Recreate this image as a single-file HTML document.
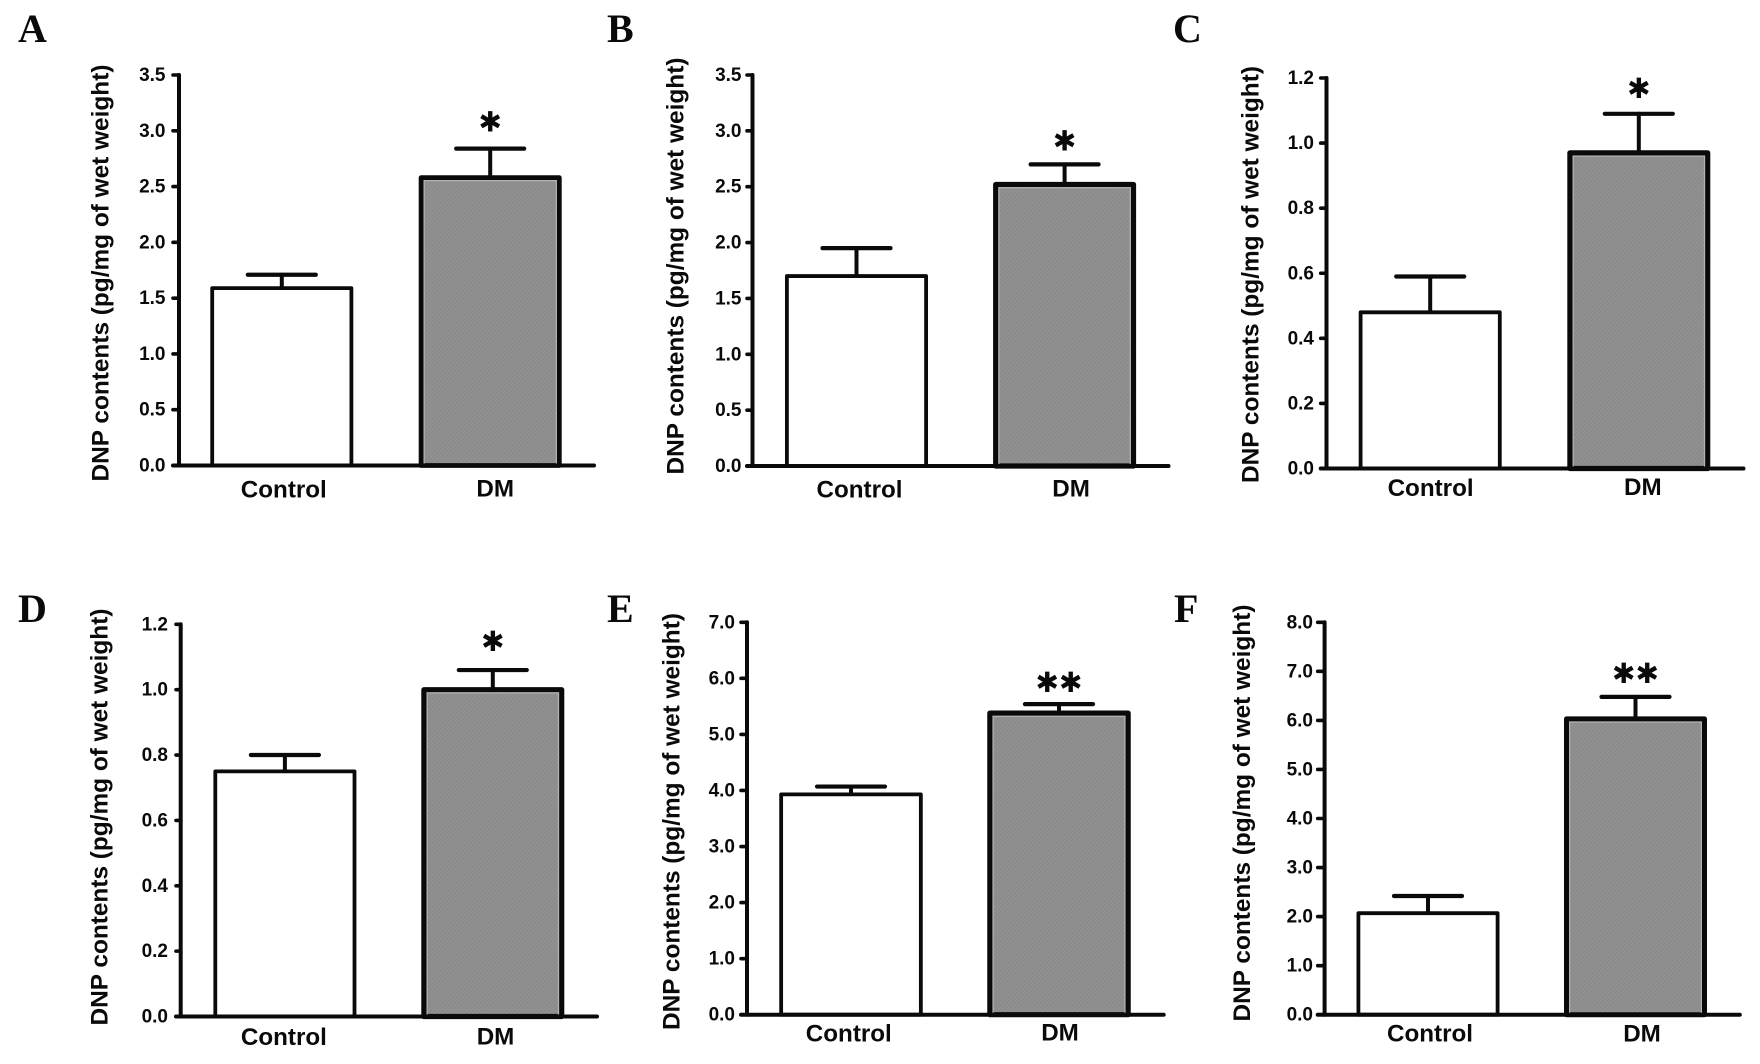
<!DOCTYPE html>
<html lang="en">
<head>
<meta charset="utf-8">
<title>DNP contents in control and DM groups</title>
<style>
  html, body { margin: 0; padding: 0; background: #ffffff; }
  body { width: 1760px; height: 1064px; overflow: hidden; }
  svg { display: block; }
  .panel-letter { font-family: "Liberation Serif", serif; font-weight: 700; font-size: 40px; fill: #0a0a0a; }
  .sans { font-family: "Liberation Sans", sans-serif; font-weight: 700; fill: #0a0a0a; }
  .y-title { font-size: 24.4px; }
  .cat-label { font-size: 24.2px; }
  .tick-label { font-size: 19px; }
  .star { font-family: "DejaVu Sans", sans-serif; font-size: 28px; fill: #0a0a0a; }
</style>
</head>
<body>
<svg id="figure" xmlns="http://www.w3.org/2000/svg" width="1760" height="1064" viewBox="0 0 1760 1064">
  <defs>
    <pattern id="hatch" patternUnits="userSpaceOnUse" width="3" height="3" patternTransform="rotate(45)">
      <rect width="3" height="3" fill="#8a8a8a"></rect>
      <rect width="1.2" height="3" fill="#949494"></rect>
    </pattern>
  </defs>
</svg>
<script>
// ---- Data ----
const panelLetters = ['A', 'B', 'C', 'D', 'E', 'F'];
const categories = ['Control', 'DM'];
const yAxisTitle = 'DNP contents (pg/mg of wet weight)';

const tickLabelsA = ['0.0', '0.5', '1.0', '1.5', '2.0', '2.5', '3.0', '3.5'];
const tickLabelsB = ['0.0', '0.5', '1.0', '1.5', '2.0', '2.5', '3.0', '3.5'];
const tickLabelsC = ['0.0', '0.2', '0.4', '0.6', '0.8', '1.0', '1.2'];
const tickLabelsD = ['0.0', '0.2', '0.4', '0.6', '0.8', '1.0', '1.2'];
const tickLabelsE = ['0.0', '1.0', '2.0', '3.0', '4.0', '5.0', '6.0', '7.0'];
const tickLabelsF = ['0.0', '1.0', '2.0', '3.0', '4.0', '5.0', '6.0', '7.0', '8.0'];

const meansA = [1.59, 2.58];
const meansB = [1.70, 2.52];
const meansC = [0.48, 0.97];
const meansD = [0.75, 1.00];
const meansE = [3.93, 5.38];
const meansF = [2.07, 6.03];

const errorTopsA = [1.71, 2.84];
const errorTopsB = [1.95, 2.70];
const errorTopsC = [0.59, 1.09];
const errorTopsD = [0.80, 1.06];
const errorTopsE = [4.07, 5.54];
const errorTopsF = [2.42, 6.48];

const significanceA = '\u2731';
const significanceB = '\u2731';
const significanceC = '\u2731';
const significanceD = '\u2731';
const significanceE = '\u2731\u2731';
const significanceF = '\u2731\u2731';

// ---- Per-panel layout (geometry only) ----
const layoutA = { axisX: 179, tickStart: 173, axisEnd: 594, yZero: 465.5, yTop: 75, center0: 281.8, step: 208.4, barW: 143, letterX: 18, letterY: 42, titleX: 108.7, titleY: 273, tickRight: 165.5, labelDx: [2, 5], labelY: [497.5, 496.5], starGap: 27, dmStroke: 4.8 };
const layoutB = { axisX: 752.5, tickStart: 747, axisEnd: 1168.5, yZero: 466, yTop: 75, center0: 856.5, step: 208.1, barW: 143, letterX: 607, letterY: 42, titleX: 683.3, titleY: 266, tickRight: 741.5, labelDx: [3, 6.5], labelY: [497.5, 496.5], starGap: 24, dmStroke: 5.2 };
const layoutC = { axisX: 1326.5, tickStart: 1320.7, axisEnd: 1743.5, yZero: 468.5, yTop: 78, center0: 1430.2, step: 208.6, barW: 143, letterX: 1173, letterY: 42, titleX: 1258.7, titleY: 274.5, tickRight: 1314, labelDx: [0.4, 4], labelY: [496, 495], starGap: 26, dmStroke: 5.2 };
const layoutD = { axisX: 180.7, tickStart: 176, axisEnd: 597, yZero: 1016.5, yTop: 624.3, center0: 284.9, step: 207.9, barW: 143, letterX: 18, letterY: 622, titleX: 107.5, titleY: 817, tickRight: 168, labelDx: [-1, 2.7], labelY: [1045, 1044.5], starGap: 29, dmStroke: 5.2 };
const layoutE = { axisX: 747, tickStart: 741, axisEnd: 1163.7, yZero: 1014.7, yTop: 622.3, center0: 851, step: 208, barW: 143.5, letterX: 607, letterY: 622, titleX: 679.5, titleY: 821.5, tickRight: 735, labelDx: [-2.2, 1], labelY: [1041.5, 1040.5], starGap: 22, dmStroke: 5.2 };
const layoutF = { axisX: 1324.6, tickStart: 1317.7, axisEnd: 1739.8, yZero: 1014.7, yTop: 622.3, center0: 1428, step: 207.5, barW: 143, letterX: 1174, letterY: 622, titleX: 1250, titleY: 813, tickRight: 1313, labelDx: [2, 6.5], labelY: [1041.5, 1041.5], starGap: 24, dmStroke: 5 };

const panels = [
  { ticks: tickLabelsA, means: meansA, errorTops: errorTopsA, significance: significanceA, layout: layoutA },
  { ticks: tickLabelsB, means: meansB, errorTops: errorTopsB, significance: significanceB, layout: layoutB },
  { ticks: tickLabelsC, means: meansC, errorTops: errorTopsC, significance: significanceC, layout: layoutC },
  { ticks: tickLabelsD, means: meansD, errorTops: errorTopsD, significance: significanceD, layout: layoutD },
  { ticks: tickLabelsE, means: meansE, errorTops: errorTopsE, significance: significanceE, layout: layoutE },
  { ticks: tickLabelsF, means: meansF, errorTops: errorTopsF, significance: significanceF, layout: layoutF }
];

// ---- Drawing ----
const SVG_NS = 'http://www.w3.org/2000/svg';
const figure = document.getElementById('figure');

function shape(parent, tag, attrs, text) {
  const node = document.createElementNS(SVG_NS, tag);
  Object.keys(attrs).forEach(function (k) { node.setAttribute(k, attrs[k]); });
  if (text !== undefined) node.textContent = text;
  parent.appendChild(node);
  return node;
}

function drawLine(parent, x1, y1, x2, y2, width) {
  return shape(parent, 'line', { x1: x1, y1: y1, x2: x2, y2: y2, stroke: '#0a0a0a', 'stroke-width': width, 'stroke-linecap': 'round' });
}

panels.forEach(function (panel, p) {
  const lay = panel.layout;
  const tickValues = panel.ticks.map(Number);
  const maxTick = Math.max.apply(null, tickValues);
  const yScale = function (v) { return lay.yZero - (v / maxTick) * (lay.yZero - lay.yTop); };
  const xScale = function (i) { return lay.center0 + i * lay.step; };

  const group = shape(figure, 'g', {});
  
  

  const letter = shape(group, 'text', { x: lay.letterX, y: lay.letterY, 'class': 'panel-letter' }, panelLetters[p]);
  
  

  const title = shape(group, 'text', { x: 0, y: 0, 'class': 'sans y-title', 'text-anchor': 'middle', transform: 'translate(' + lay.titleX + ' ' + lay.titleY + ') rotate(-90)' }, yAxisTitle);
  
  

  categories.forEach(function (cat, i) {
    const stroke = i === 0 ? 3.8 : lay.dmStroke;
    const cx = xScale(i);
    const left = cx - lay.barW / 2 + stroke / 2;
    const width = lay.barW - stroke;
    const top = yScale(panel.means[i]);

    const stem = drawLine(group, cx, top, cx, yScale(panel.errorTops[i]), 4);
    
    

    const cap = drawLine(group, cx - 34, yScale(panel.errorTops[i]), cx + 34, yScale(panel.errorTops[i]), 4.2);
    
    

    const bar = shape(group, 'rect', {
      x: left, y: top, width: width, height: yScale(0) - top,
      fill: i === 0 ? '#ffffff' : 'url(#hatch)', stroke: '#0a0a0a', 'stroke-width': stroke, 'stroke-linejoin': 'round'
    });
    
    

    if (i === 1) {
      const edge = shape(group, 'rect', {
        x: left + stroke / 2 + 0.6, y: top + stroke / 2 + 0.6,
        width: Math.max(0, width - stroke - 1.2), height: Math.max(0, yScale(0) - top - stroke / 2 - 1.2),
        fill: 'none', stroke: '#b4b4b4', 'stroke-width': 1.2
      });
      
      
    }

    const label = shape(group, 'text', { x: cx + lay.labelDx[i], y: lay.labelY[i], 'class': 'sans cat-label', 'text-anchor': 'middle' }, cat);
    
    
  });

  const star = shape(group, 'text', {
    x: xScale(1), y: yScale(panel.errorTops[1]) - lay.starGap + 10,
    'class': 'star', 'text-anchor': 'middle'
  }, panel.significance);
  
  

  const yAxis = drawLine(group, lay.axisX, yScale(maxTick), lay.axisX, yScale(0), 4);
  
  

  const xAxis = drawLine(group, lay.tickStart, yScale(0), lay.axisEnd, yScale(0), 4);
  
  

  panel.ticks.forEach(function (tickText, t) {
    const ty = yScale(tickValues[t]);
    const tick = drawLine(group, lay.tickStart, ty, lay.axisX, ty, 3.6);
    
    

    const tickLabel = shape(group, 'text', { x: lay.tickRight, y: ty + 6, 'class': 'sans tick-label', 'text-anchor': 'end' }, tickText);
    
    
  });
});
</script>
</body>
</html>
